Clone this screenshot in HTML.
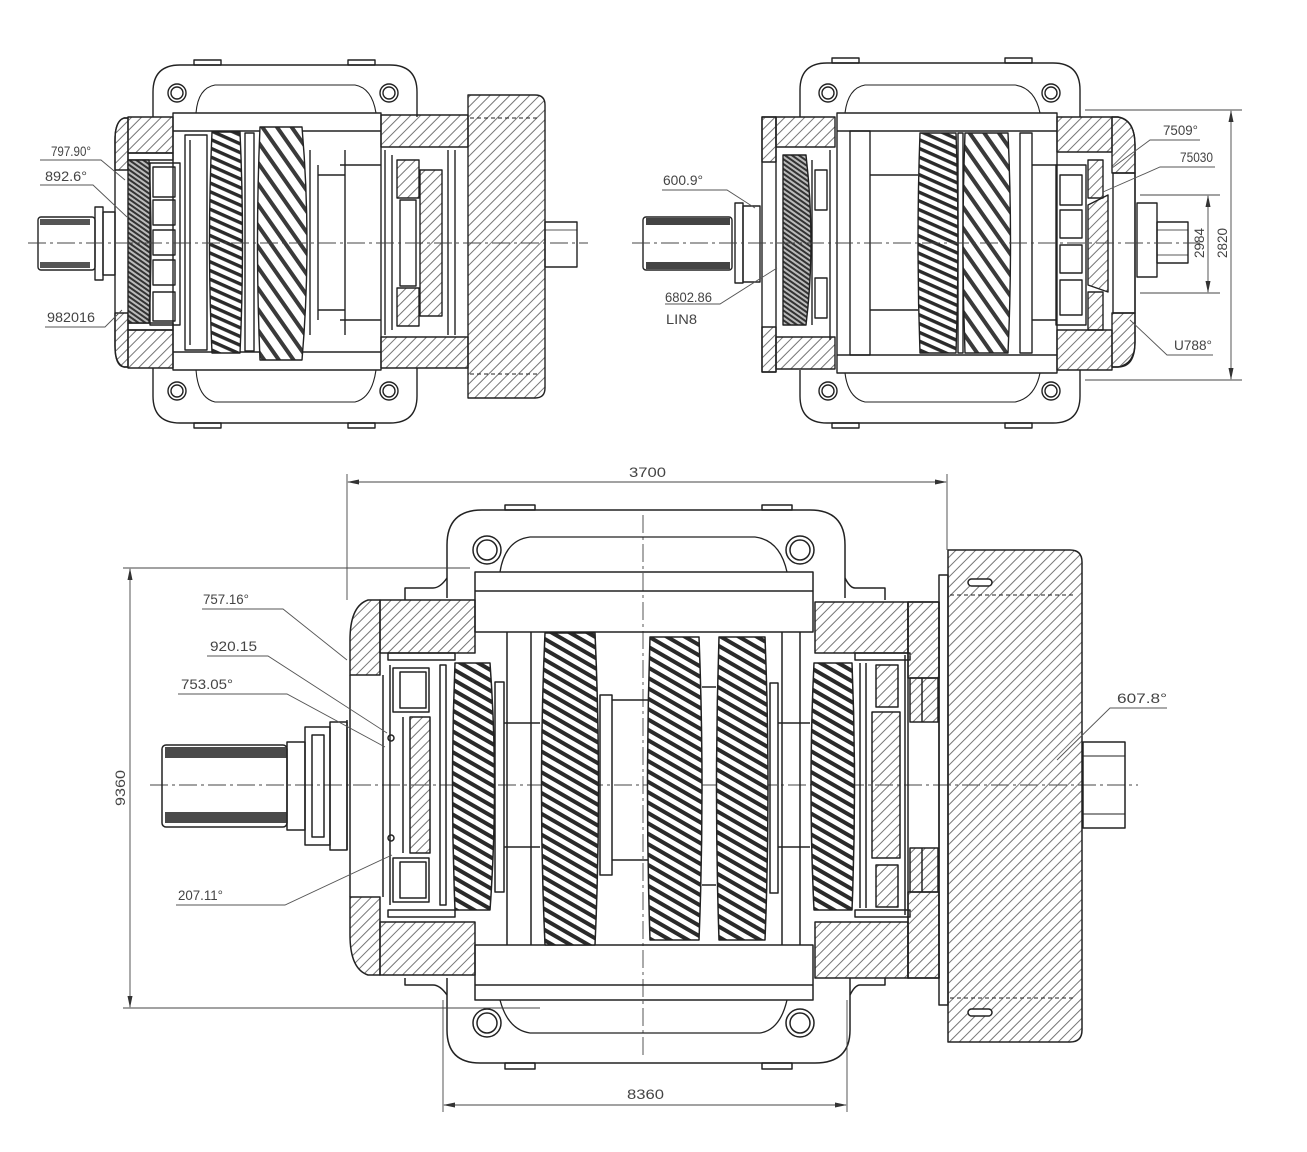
<!DOCTYPE html>
<html><head><meta charset="utf-8"><style>
html,body{margin:0;padding:0;background:#fff;}
svg{display:block;}
text{font-family:"Liberation Sans",sans-serif;fill:#444;font-size:14px;}
</style></head><body>
<svg width="1307" height="1152" viewBox="0 0 1307 1152" xmlns="http://www.w3.org/2000/svg">
<defs>
<pattern id="h" width="7" height="7" patternUnits="userSpaceOnUse" patternTransform="rotate(45)"><line x1="1" y1="0" x2="1" y2="7" stroke="#666" stroke-width="0.9"/></pattern>
<pattern id="hg" width="8" height="8" patternUnits="userSpaceOnUse" patternTransform="rotate(24)"><rect width="8" height="8" fill="#fff"/><rect x="0" y="0" width="8" height="3.4" fill="#2a2a2a"/></pattern>
<pattern id="hg2" width="9" height="9" patternUnits="userSpaceOnUse" patternTransform="rotate(30)"><rect width="9" height="9" fill="#fff"/><rect x="0" y="0" width="9" height="4" fill="#2a2a2a"/></pattern>
<pattern id="hgT" width="12" height="12" patternUnits="userSpaceOnUse" patternTransform="rotate(55)"><rect width="12" height="12" fill="#fff"/><rect x="0" y="0" width="12" height="4" fill="#3a3a3a"/></pattern>
<pattern id="dg" width="4" height="4" patternUnits="userSpaceOnUse" patternTransform="rotate(35)"><rect width="4" height="4" fill="#bbb"/><rect width="4" height="2" fill="#333"/></pattern>
<marker id="ar" markerWidth="12" markerHeight="6" refX="11" refY="3" orient="auto" markerUnits="userSpaceOnUse"><path d="M0,0.5 L12,3 L0,5.5 Z" fill="#333"/></marker>
</defs>

<g fill="none" stroke="#222" stroke-width="1.4" stroke-linejoin="round">

<!-- ===================== TOP-LEFT VIEW ===================== -->
<!-- frame -->
<path d="M153 117 L153 92 Q153 65 180 65 L390 65 Q417 65 417 92 L417 117"/>
<path d="M153 368 L153 396 Q153 423 180 423 L390 423 Q417 423 417 396 L417 368"/>
<path d="M196 113 Q198 88 215 85 L355 85 Q372 88 376 113" stroke-width="1.1"/>
<path d="M196 370 Q198 398 215 402 L355 402 Q372 398 376 370" stroke-width="1.1"/>
<rect x="194" y="60" width="27" height="5"/><rect x="348" y="60" width="27" height="5"/>
<rect x="194" y="423" width="27" height="5"/><rect x="348" y="423" width="27" height="5"/>
<circle cx="177" cy="93" r="9"/><circle cx="177" cy="93" r="6"/>
<circle cx="389" cy="93" r="9"/><circle cx="389" cy="93" r="6"/>
<circle cx="177" cy="391" r="9"/><circle cx="177" cy="391" r="6"/>
<circle cx="389" cy="391" r="9"/><circle cx="389" cy="391" r="6"/>
<!-- central block -->
<rect x="173" y="113" width="208" height="257"/>
<line x1="173" y1="131" x2="381" y2="131"/>
<line x1="173" y1="352" x2="381" y2="352"/>
<!-- left housing -->
<path d="M128 118 L124 118 Q115 121 115 140 L115 346 Q115 366 124 367 L128 367"/>
<path d="M128 118 L124 118 Q115 121 115 140 L115 170 L128 170 Z" fill="url(#h)"/>
<path d="M128 367 L124 367 Q115 364 115 346 L115 313 L128 313 Z" fill="url(#h)"/>
<rect x="128" y="117" width="45" height="36" fill="url(#h)"/>
<rect x="128" y="330" width="45" height="38" fill="url(#h)"/>
<rect x="128" y="153" width="45" height="7"/>
<rect x="128" y="323" width="45" height="7"/>
<path d="M128 160 L149 160 Q153 243 149 323 L128 323 Z" fill="url(#dg)"/>
<rect x="150" y="163" width="30" height="162"/>
<rect x="153" y="167" width="22" height="30"/><rect x="153" y="200" width="22" height="25"/>
<rect x="153" y="230" width="22" height="25"/><rect x="153" y="260" width="22" height="25"/>
<rect x="153" y="292" width="22" height="29"/>
<rect x="185" y="135" width="22" height="215"/>
<line x1="190" y1="140" x2="190" y2="345"/>
<path d="M212 132 L240 132 Q245 243 240 353 L212 353 Q207 243 212 132 Z" fill="url(#hg)"/>
<rect x="245" y="133" width="9" height="218"/>
<path d="M260 127 L302 127 Q312 243 302 360 L260 360 Q255 243 260 127 Z" fill="url(#hgT)"/>
<line x1="310" y1="150" x2="310" y2="335"/>
<line x1="318" y1="165" x2="318" y2="320"/>
<line x1="318" y1="175" x2="345" y2="175"/><line x1="318" y1="310" x2="345" y2="310"/>
<line x1="345" y1="150" x2="345" y2="335"/>
<line x1="340" y1="165" x2="381" y2="165"/><line x1="340" y1="320" x2="381" y2="320"/>
<!-- right side of top-left -->
<rect x="381" y="115" width="87" height="32" fill="url(#h)"/>
<rect x="381" y="337" width="87" height="31" fill="url(#h)"/>
<line x1="385" y1="150" x2="385" y2="335"/><line x1="392" y1="155" x2="392" y2="330"/>
<rect x="397" y="160" width="22" height="38" fill="url(#h)"/>
<rect x="397" y="288" width="22" height="38" fill="url(#h)"/>
<rect x="420" y="170" width="22" height="146" fill="url(#h)"/>
<rect x="400" y="200" width="16" height="86"/>
<line x1="448" y1="150" x2="448" y2="335"/><line x1="455" y1="150" x2="455" y2="335"/>
<!-- flywheel -->
<path d="M468 95 L535 95 Q545 95 545 105 L545 388 Q545 398 535 398 L468 398 Z" fill="url(#h)"/>
<line x1="470" y1="118" x2="540" y2="118" stroke-dasharray="4 3" stroke-width="0.9"/>
<line x1="470" y1="374" x2="540" y2="374" stroke-dasharray="4 3" stroke-width="0.9"/>
<!-- shafts -->
<rect x="38" y="217" width="57" height="53" rx="3"/>
<rect x="40" y="219" width="50" height="6" fill="#555" stroke="none"/>
<rect x="40" y="262" width="50" height="6" fill="#555" stroke="none"/>
<rect x="95" y="207" width="8" height="73"/>
<rect x="103" y="212" width="12" height="63"/>
<rect x="545" y="222" width="32" height="45"/>
<line x1="545" y1="230" x2="577" y2="230" stroke-width="0.8"/>

<!-- ===================== TOP-RIGHT VIEW ===================== -->
<path d="M800 117 L800 90 Q800 63 827 63 L1053 63 Q1080 63 1080 90 L1080 117"/>
<path d="M800 370 L800 396 Q800 423 827 423 L1053 423 Q1080 423 1080 396 L1080 370"/>
<path d="M845 113 Q848 88 865 85 L1015 85 Q1035 88 1040 113" stroke-width="1.1"/>
<path d="M845 373 Q848 398 865 402 L1015 402 Q1035 398 1040 373" stroke-width="1.1"/>
<rect x="832" y="58" width="27" height="5"/><rect x="1005" y="58" width="27" height="5"/>
<rect x="832" y="423" width="27" height="5"/><rect x="1005" y="423" width="27" height="5"/>
<circle cx="828" cy="93" r="9"/><circle cx="828" cy="93" r="6"/>
<circle cx="1051" cy="93" r="9"/><circle cx="1051" cy="93" r="6"/>
<circle cx="828" cy="391" r="9"/><circle cx="828" cy="391" r="6"/>
<circle cx="1051" cy="391" r="9"/><circle cx="1051" cy="391" r="6"/>
<rect x="837" y="113" width="220" height="260"/>
<line x1="837" y1="131" x2="1057" y2="131"/>
<line x1="837" y1="355" x2="1057" y2="355"/>
<!-- left housing -->
<rect x="762" y="117" width="14" height="255"/>
<rect x="762" y="117" width="14" height="45" fill="url(#h)"/>
<rect x="762" y="327" width="14" height="45" fill="url(#h)"/>
<rect x="776" y="117" width="59" height="30" fill="url(#h)"/>
<rect x="776" y="337" width="59" height="32" fill="url(#h)"/>
<path d="M783 155 L806 155 Q816 243 806 325 L783 325 Z" fill="url(#dg)"/>
<line x1="812" y1="160" x2="812" y2="325"/>
<rect x="815" y="170" width="12" height="40"/><rect x="815" y="278" width="12" height="40"/>
<line x1="830" y1="150" x2="830" y2="340"/>
<rect x="850" y="131" width="20" height="224"/>
<line x1="870" y1="175" x2="918" y2="175"/><line x1="870" y1="310" x2="918" y2="310"/>
<path d="M920 133 L956 133 Q960 243 956 353 L920 353 Q916 243 920 133 Z" fill="url(#hg)"/>
<rect x="958" y="133" width="5" height="220"/>
<path d="M965 133 L1008 133 Q1013 243 1008 353 L965 353 Q961 243 965 133 Z" fill="url(#hgT)"/>
<rect x="1020" y="133" width="12" height="220"/>
<line x1="1032" y1="165" x2="1057" y2="165"/><line x1="1032" y1="320" x2="1057" y2="320"/>
<!-- right housing -->
<rect x="1057" y="117" width="55" height="35" fill="url(#h)"/>
<rect x="1057" y="330" width="55" height="40" fill="url(#h)"/>
<path d="M1112 117 L1118 117 Q1135 120 1135 145 L1135 342 Q1135 367 1118 367 L1112 367"/>
<path d="M1112 117 L1118 117 Q1135 120 1135 145 L1135 173 L1112 173 Z" fill="url(#h)"/>
<path d="M1112 367 L1118 367 Q1135 364 1135 342 L1135 313 L1112 313 Z" fill="url(#h)"/>
<rect x="1113" y="173" width="22" height="140"/>
<rect x="1056" y="165" width="30" height="160"/>
<rect x="1060" y="175" width="22" height="30"/><rect x="1060" y="210" width="22" height="28"/>
<rect x="1060" y="245" width="22" height="28"/><rect x="1060" y="280" width="22" height="35"/>
<rect x="1088" y="160" width="15" height="38" fill="url(#h)"/>
<rect x="1088" y="292" width="15" height="38" fill="url(#h)"/>
<path d="M1088 205 L1108 195 L1108 292 L1088 285 Z" fill="url(#h)"/>
<!-- shafts -->
<rect x="643" y="217" width="89" height="53" rx="3"/>
<rect x="646" y="218" width="84" height="7" fill="#444" stroke="none"/>
<rect x="646" y="262" width="84" height="7" fill="#444" stroke="none"/>
<rect x="735" y="203" width="8" height="80"/>
<rect x="743" y="206" width="17" height="76"/>
<rect x="1137" y="203" width="20" height="74"/>
<rect x="1157" y="222" width="31" height="41"/>
<line x1="1157" y1="230" x2="1188" y2="230" stroke-width="0.8"/>
<line x1="1157" y1="255" x2="1188" y2="255" stroke-width="0.8"/>
</g>

<!-- centerlines -->
<g stroke="#444" stroke-width="0.9" stroke-dasharray="18 4 3 4" fill="none">
<line x1="28" y1="243" x2="588" y2="243"/>
<line x1="632" y1="243" x2="1200" y2="243"/>
<line x1="150" y1="785" x2="1138" y2="785"/>
<line x1="643" y1="515" x2="643" y2="1058"/>
</g>

<!-- top-right dimensions -->
<g stroke="#444" stroke-width="0.9" fill="none">
<line x1="1085" y1="110" x2="1242" y2="110"/>
<line x1="1085" y1="380" x2="1242" y2="380"/>
<line x1="1140" y1="195" x2="1220" y2="195"/>
<line x1="1140" y1="293" x2="1220" y2="293"/>
<line x1="1208" y1="243" x2="1208" y2="196" marker-end="url(#ar)"/>
<line x1="1208" y1="243" x2="1208" y2="292" marker-end="url(#ar)"/>
<line x1="1231" y1="243" x2="1231" y2="111" marker-end="url(#ar)"/>
<line x1="1231" y1="243" x2="1231" y2="379" marker-end="url(#ar)"/>
</g>
<text transform="translate(1204,258) rotate(-90)" textLength="30" lengthAdjust="spacingAndGlyphs" font-size="13">2984</text>
<text transform="translate(1227,258) rotate(-90)" textLength="30" lengthAdjust="spacingAndGlyphs" font-size="13">2820</text>

<!-- top labels -->
<g stroke="#555" stroke-width="0.9" fill="none">
<polyline points="40,160 101,160 125,180"/>
<polyline points="40,185 93,185 127,217"/>
<polyline points="45,327 105,327 122,310"/>
<polyline points="662,190 727,190 755,208"/>
<polyline points="665,304 720,304 777,268"/>
<polyline points="1200,140 1150,140 1112,168"/>
<polyline points="1215,167 1160,167 1103,192"/>
<polyline points="1213,355 1167,355 1130,320"/>
</g>
<g font-size="13">
<text x="51" y="156" textLength="40" lengthAdjust="spacingAndGlyphs">797.90°</text>
<text x="45" y="181" textLength="42" lengthAdjust="spacingAndGlyphs">892.6°</text>
<text x="47" y="322" textLength="48" lengthAdjust="spacingAndGlyphs">982016</text>
<text x="663" y="185" textLength="40" lengthAdjust="spacingAndGlyphs">600.9°</text>
<text x="665" y="302" textLength="47" lengthAdjust="spacingAndGlyphs">6802.86</text>
<text x="666" y="324" textLength="31" lengthAdjust="spacingAndGlyphs">LIN8</text>
<text x="1163" y="135" textLength="35" lengthAdjust="spacingAndGlyphs">7509°</text>
<text x="1180" y="162" textLength="33" lengthAdjust="spacingAndGlyphs">75030</text>
<text x="1174" y="350" textLength="38" lengthAdjust="spacingAndGlyphs">U788°</text>
</g>

<!-- ===================== MAIN VIEW ===================== -->
<g fill="none" stroke="#222" stroke-width="1.5" stroke-linejoin="round">
<!-- top frame -->
<path d="M447 598 L447 545 Q447 510 482 510 L810 510 Q845 510 845 545 L845 598"/>
<path d="M447 578 Q440 588 433 588 L405 588 L405 600"/>
<path d="M845 578 Q850 588 855 588 L885 588 L885 600"/>
<path d="M500 572 Q505 540 530 537 L755 537 Q780 540 787 572" stroke-width="1.3"/>
<rect x="505" y="505" width="30" height="5"/><rect x="762" y="505" width="30" height="5"/>
<circle cx="487" cy="550" r="14"/><circle cx="487" cy="550" r="10"/>
<circle cx="800" cy="550" r="14"/><circle cx="800" cy="550" r="10"/>
<!-- bottom frame -->
<path d="M447 978 L447 1030 Q447 1063 480 1063 L815 1063 Q850 1063 850 1030 L850 978"/>
<path d="M447 995 Q440 985 433 985 L405 985 L405 978"/>
<path d="M850 995 Q855 985 860 985 L885 985 L885 978"/>
<path d="M500 1000 Q508 1030 530 1033 L760 1033 Q780 1030 787 1000" stroke-width="1.3"/>
<rect x="505" y="1063" width="30" height="6"/><rect x="762" y="1063" width="30" height="6"/>
<circle cx="487" cy="1023" r="14"/><circle cx="487" cy="1023" r="10"/>
<circle cx="800" cy="1023" r="14"/><circle cx="800" cy="1023" r="10"/>
<!-- blocks -->
<rect x="475" y="572" width="338" height="60"/>
<line x1="475" y1="591" x2="813" y2="591"/>
<rect x="475" y="945" width="338" height="55"/>
<line x1="475" y1="985" x2="813" y2="985"/>
<!-- left housing -->
<path d="M380 600 L368 600 Q350 606 350 640 L350 675 L380 675 Z" fill="url(#h)"/>
<path d="M380 975 L368 975 Q350 969 350 935 L350 897 L380 897 Z" fill="url(#h)"/>
<rect x="380" y="600" width="95" height="53" fill="url(#h)"/>
<rect x="380" y="922" width="95" height="53" fill="url(#h)"/>
<line x1="350" y1="675" x2="350" y2="897"/>
<line x1="383" y1="675" x2="383" y2="897"/>
<line x1="390" y1="665" x2="390" y2="905"/>
<line x1="347" y1="720" x2="347" y2="850"/>
<!-- left bearing -->
<rect x="388" y="653" width="67" height="7"/>
<rect x="388" y="910" width="67" height="7"/>
<rect x="393" y="668" width="36" height="44"/><rect x="400" y="672" width="26" height="36"/>
<rect x="393" y="858" width="36" height="44"/><rect x="400" y="862" width="26" height="36"/>
<rect x="410" y="717" width="20" height="136" fill="url(#h)"/>
<line x1="403" y1="717" x2="403" y2="853"/>
<rect x="440" y="665" width="6" height="240"/>
<circle cx="391" cy="738" r="3"/><circle cx="391" cy="838" r="3"/>
<!-- gears -->
<path d="M455 663 L490 663 Q499 786 490 910 L455 910 Q450 786 455 663 Z" fill="url(#hg2)"/>
<rect x="495" y="682" width="9" height="210"/>
<line x1="507" y1="632" x2="507" y2="945"/><line x1="531" y1="632" x2="531" y2="945"/>
<line x1="504" y1="723" x2="540" y2="723"/><line x1="504" y1="847" x2="540" y2="847"/>
<path d="M545 633 L595 633 Q602 789 595 945 L545 945 Q538 789 545 633 Z" fill="url(#hg2)"/>
<rect x="600" y="695" width="12" height="180"/>
<line x1="612" y1="700" x2="648" y2="700"/><line x1="612" y1="860" x2="648" y2="860"/>
<path d="M650 637 L699 637 Q705 789 699 940 L650 940 Q645 789 650 637 Z" fill="url(#hg2)"/>
<line x1="702" y1="687" x2="716" y2="687"/><line x1="702" y1="885" x2="716" y2="885"/>
<path d="M719 637 L765 637 Q771 789 765 940 L719 940 Q714 789 719 637 Z" fill="url(#hg2)"/>
<rect x="770" y="683" width="8" height="210"/>
<line x1="782" y1="632" x2="782" y2="945"/><line x1="800" y1="632" x2="800" y2="945"/>
<line x1="778" y1="723" x2="810" y2="723"/><line x1="778" y1="847" x2="810" y2="847"/>
<path d="M814 663 L852 663 Q857 786 852 910 L814 910 Q808 786 814 663 Z" fill="url(#hg2)"/>
<!-- right bearing -->
<rect x="855" y="653" width="55" height="7"/>
<rect x="855" y="910" width="55" height="7"/>
<line x1="860" y1="663" x2="860" y2="908"/><line x1="866" y1="663" x2="866" y2="908"/>
<rect x="876" y="665" width="22" height="42" fill="url(#h)"/>
<rect x="876" y="865" width="22" height="42" fill="url(#h)"/>
<rect x="872" y="712" width="28" height="146" fill="url(#h)"/>
<line x1="905" y1="655" x2="905" y2="915"/>
<!-- right housing -->
<rect x="815" y="602" width="93" height="51" fill="url(#h)"/>
<rect x="815" y="922" width="93" height="56" fill="url(#h)"/>
<rect x="908" y="602" width="31" height="376"/>
<rect x="908" y="602" width="31" height="76" fill="url(#h)"/>
<rect x="908" y="892" width="31" height="86" fill="url(#h)"/>
<rect x="910" y="678" width="28" height="44" fill="url(#h)"/>
<rect x="910" y="848" width="28" height="44" fill="url(#h)"/>
<line x1="922" y1="678" x2="922" y2="722"/><line x1="922" y1="848" x2="922" y2="892"/>
<rect x="939" y="575" width="9" height="430"/>
<!-- flywheel -->
<path d="M948 550 L1070 550 Q1082 550 1082 562 L1082 1030 Q1082 1042 1070 1042 L948 1042 Z" fill="url(#h)"/>
<line x1="950" y1="595" x2="1075" y2="595" stroke-dasharray="4 3" stroke-width="0.9"/>
<line x1="950" y1="998" x2="1075" y2="998" stroke-dasharray="4 3" stroke-width="0.9"/>
<rect x="968" y="579" width="24" height="7" rx="3.5" fill="#fff"/>
<rect x="968" y="1009" width="24" height="7" rx="3.5" fill="#fff"/>
<!-- shafts -->
<rect x="1083" y="742" width="42" height="86"/>
<line x1="1083" y1="756" x2="1125" y2="756" stroke-width="0.9"/>
<line x1="1083" y1="814" x2="1125" y2="814" stroke-width="0.9"/>
<rect x="162" y="745" width="125" height="82" rx="4"/>
<rect x="165" y="747" width="122" height="11" fill="#4a4a4a" stroke="none"/>
<rect x="165" y="812" width="122" height="11" fill="#4a4a4a" stroke="none"/>
<rect x="287" y="742" width="18" height="88"/>
<rect x="305" y="727" width="25" height="118"/>
<rect x="312" y="735" width="12" height="102"/>
<rect x="330" y="722" width="17" height="128"/>
</g>

<!-- main dimensions -->
<g stroke="#444" stroke-width="0.9" fill="none">
<line x1="347" y1="474" x2="347" y2="600"/>
<line x1="947" y1="474" x2="947" y2="550"/>
<line x1="645" y1="482" x2="348" y2="482" marker-end="url(#ar)"/>
<line x1="645" y1="482" x2="946" y2="482" marker-end="url(#ar)"/>
<line x1="123" y1="568" x2="470" y2="568"/>
<line x1="123" y1="1008" x2="540" y2="1008"/>
<line x1="130" y1="788" x2="130" y2="569" marker-end="url(#ar)"/>
<line x1="130" y1="788" x2="130" y2="1007" marker-end="url(#ar)"/>
<line x1="443" y1="1000" x2="443" y2="1112"/>
<line x1="847" y1="1000" x2="847" y2="1112"/>
<line x1="645" y1="1105" x2="444" y2="1105" marker-end="url(#ar)"/>
<line x1="645" y1="1105" x2="846" y2="1105" marker-end="url(#ar)"/>
</g>
<text x="629" y="477" textLength="37" lengthAdjust="spacingAndGlyphs">3700</text>
<text x="627" y="1099" textLength="37" lengthAdjust="spacingAndGlyphs">8360</text>
<text transform="translate(125,806) rotate(-90)" textLength="36" lengthAdjust="spacingAndGlyphs">9360</text>

<!-- main labels -->
<g stroke="#555" stroke-width="0.9" fill="none">
<polyline points="202,609 283,609 347,660"/>
<polyline points="207,656 268,656 387,733"/>
<polyline points="178,694 287,694 385,747"/>
<polyline points="176,905 285,905 392,855"/>
<polyline points="1167,708 1110,708 1057,760"/>
</g>
<g font-size="14">
<text x="203" y="604" textLength="46" lengthAdjust="spacingAndGlyphs">757.16°</text>
<text x="210" y="651" textLength="47" lengthAdjust="spacingAndGlyphs">920.15</text>
<text x="181" y="689" textLength="52" lengthAdjust="spacingAndGlyphs">753.05°</text>
<text x="178" y="900" textLength="45" lengthAdjust="spacingAndGlyphs">207.11°</text>
<text x="1117" y="703" textLength="50" lengthAdjust="spacingAndGlyphs">607.8°</text>
</g>
</svg>
</body></html>
